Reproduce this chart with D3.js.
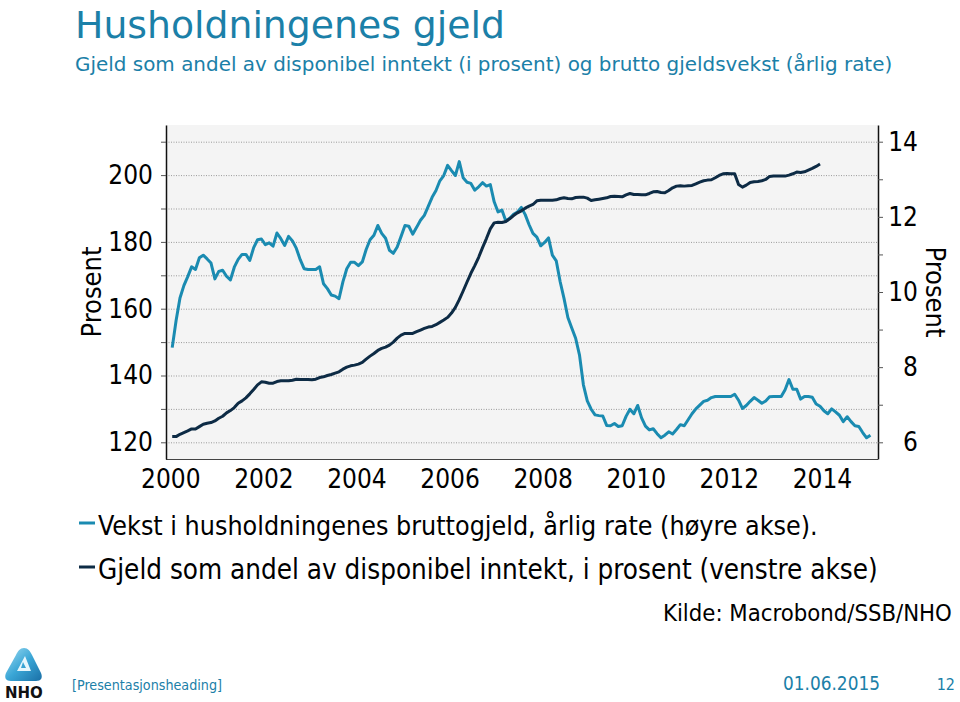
<!DOCTYPE html>
<html><head><meta charset="utf-8">
<script src="https://cdn.jsdelivr.net/npm/d3@7"></script>
<style>
body{margin:0;background:#fff;}
svg{display:block;}
text{font-family:"DejaVu Sans Condensed","DejaVu Sans",sans-serif;}
</style></head><body>
<svg id="c" width="960" height="702"></svg>
<script>
// ---- data ----
const yearTicks = [2000, 2002, 2004, 2006, 2008, 2010, 2012, 2014];
const leftGridValues = [120, 130, 140, 150, 160, 170, 180, 190, 200, 210];
const leftTickLabels = [120, 140, 160, 180, 200];
const rightTickValues = [6, 7, 8, 9, 10, 11, 12, 13, 14];
const rightTickLabels = [6, 8, 10, 12, 14];
const seriesStartYear = 2000; // both series monthly from January 2000

// Vekst i husholdningenes bruttogjeld, årlig rate (høyre akse), monthly Jan 2000 – Jan 2015
const growth = [
 8.52,9.24,9.84,10.17,10.41,10.67,10.60,10.91,10.98,10.88,10.77,10.35,
 10.55,10.58,10.42,10.32,10.66,10.87,11.00,11.00,10.84,11.18,11.39,11.41,
 11.26,11.31,11.22,11.57,11.42,11.24,11.48,11.36,11.16,10.86,10.62,10.60,
 10.60,10.60,10.67,10.22,10.09,9.92,9.89,9.82,10.27,10.62,10.79,10.79,
 10.70,10.80,11.13,11.39,11.51,11.77,11.56,11.43,11.11,11.03,11.20,11.48,
 11.77,11.75,11.54,11.72,11.91,12.04,12.28,12.52,12.70,12.96,13.10,13.37,
 13.23,13.10,13.47,13.04,12.92,12.89,12.71,12.80,12.91,12.82,12.86,12.40,
 12.13,12.18,11.89,11.96,12.07,12.13,12.25,12.06,11.79,11.56,11.46,11.23,
 11.32,11.44,10.98,10.83,10.28,9.83,9.32,9.04,8.77,8.32,7.53,7.10,
 6.88,6.73,6.71,6.70,6.45,6.44,6.50,6.42,6.44,6.69,6.88,6.76,
 6.98,6.65,6.43,6.33,6.36,6.23,6.12,6.19,6.28,6.22,6.34,6.47,
 6.44,6.60,6.76,6.89,6.99,7.09,7.12,7.19,7.22,7.22,7.22,7.22,
 7.22,7.28,7.12,6.90,6.98,7.09,7.19,7.12,7.04,7.10,7.21,7.22,
 7.22,7.22,7.40,7.67,7.41,7.41,7.15,7.22,7.22,7.20,7.02,6.96,
 6.84,6.76,6.89,6.81,6.72,6.55,6.68,6.55,6.44,6.42,6.26,6.12,
 6.19
];

// Gjeld som andel av disponibel inntekt, i prosent (venstre akse), monthly Jan 2000 – Dec 2013
const debtRatio = [
 121.7,121.7,122.4,122.9,123.4,124.0,124.0,124.7,125.4,125.7,125.9,126.4,
 127.2,127.8,128.8,129.5,130.4,131.7,132.4,133.3,134.5,135.8,137.2,138.1,
 138.0,137.7,137.7,138.2,138.4,138.4,138.4,138.6,138.9,138.8,138.8,138.8,
 138.7,138.9,139.4,139.6,140.0,140.3,140.7,141.1,141.9,142.5,142.9,143.1,
 143.4,143.9,144.9,145.8,146.6,147.5,148.1,148.5,149.1,150.0,151.2,152.1,
 152.6,152.6,152.6,153.1,153.6,154.1,154.5,154.7,155.2,155.9,156.6,157.4,
 158.7,160.4,162.7,165.3,168.0,170.6,172.9,175.4,178.3,181.0,183.9,185.7,
 185.9,185.8,186.1,186.9,187.9,188.7,189.3,190.1,190.7,191.2,192.3,192.5,
 192.5,192.5,192.5,192.6,193.0,193.2,193.0,192.9,193.3,193.4,193.4,193.1,
 192.4,192.6,192.8,193.0,193.2,193.6,193.7,193.6,193.5,194.1,194.5,194.2,
 194.2,194.1,194.1,194.5,195.0,195.1,194.8,194.7,195.4,196.2,196.7,196.8,
 196.7,196.8,196.9,197.4,197.9,198.3,198.5,198.6,199.2,199.9,200.4,200.5,
 200.4,200.4,197.2,196.4,197.0,197.8,198.0,198.1,198.3,198.7,199.6,199.7,
 199.7,199.7,199.7,200.0,200.4,200.9,200.8,201.0,201.5,202.0,202.6,203.3
];

const titleText = "Husholdningenes gjeld";
const subtitleText = "Gjeld som andel av disponibel inntekt (i prosent) og brutto gjeldsvekst (årlig rate)";
const legendLabels = ["Vekst i husholdningenes bruttogjeld, årlig rate (høyre akse).",
                      "Gjeld som andel av disponibel inntekt, i prosent (venstre akse)"];
const axisTitle = "Prosent";
const sourceText = "Kilde: Macrobond/SSB/NHO";
const footerLeft = "[Presentasjonsheading]";
const footerDate = "01.06.2015";
const footerPage = "12";

// ---- layout ----
const svg = d3.select("#c");
const P = {l: 166, r: 878, t: 125, b: 459};
const lightCol = "#1a8bb1", darkCol = "#0d2b45", teal = "#1b80a8";

const x = d3.scaleLinear().domain([1999.908, 2015.204]).range([P.l, P.r]);
const yL = d3.scaleLinear().domain([115, 215]).range([P.b, P.t]);
const yR = d3.scaleLinear().domain([6 - 5/11.25, 14 + 5/11.25]).range([P.b, P.t]);
const tOf = i => seriesStartYear + (i + 0.5) / 12;

function fit(sel, width) {
  const w = sel.node().getComputedTextLength();
  const fs = parseFloat(sel.attr("font-size"));
  sel.attr("font-size", (fs * width / w).toFixed(2));
}

// titles
fit(svg.append("text").attr("x", 75).attr("y", 38).attr("font-size", 38)
  .style("font-family", "'DejaVu Sans',sans-serif").attr("fill", teal).text(titleText), 430);
fit(svg.append("text").attr("x", 75).attr("y", 71).attr("font-size", 18)
  .style("font-family", "'DejaVu Sans',sans-serif").attr("fill", teal).text(subtitleText), 818);

// plot background
svg.append("rect").attr("x", P.l).attr("y", P.t).attr("width", P.r - P.l).attr("height", P.b - P.t)
  .attr("fill", "#f4f4f4");

// gridlines
svg.append("g").selectAll("line").data(leftGridValues).join("line")
  .attr("x1", P.l).attr("x2", P.r).attr("y1", d => yL(d) + 0.5).attr("y2", d => yL(d) + 0.5)
  .attr("stroke", "#9a9a9a").attr("stroke-width", 1).attr("stroke-dasharray", "1,1.5");

// bottom border
svg.append("line").attr("x1", P.l).attr("x2", P.r).attr("y1", P.b + 0.5).attr("y2", P.b + 0.5)
  .attr("stroke", "#444").attr("stroke-width", 1.2);

// left axis
const gL = svg.append("g").attr("transform", `translate(${P.l},0)`)
  .call(d3.axisLeft(yL).tickValues(leftGridValues).tickSize(5).tickSizeOuter(0).tickPadding(8)
    .tickFormat(d => leftTickLabels.includes(d) ? d : ""));
gL.select(".domain").attr("stroke", "#111").attr("stroke-width", 1.5);
gL.selectAll(".tick line").attr("stroke", "#555");
gL.selectAll(".tick text").attr("font-size", 26).attr("fill", "#000")
  .style("font-family", "'DejaVu Sans Condensed','DejaVu Sans',sans-serif");

// right axis
const gR = svg.append("g").attr("transform", `translate(${P.r},0)`)
  .call(d3.axisRight(yR).tickValues(rightTickValues).tickSize(5).tickSizeOuter(0)
    .tickFormat(d => rightTickLabels.includes(d) ? d : ""));
gR.select(".domain").attr("stroke", "#111").attr("stroke-width", 1.5);
gR.selectAll(".tick line").attr("stroke", "#555");
gR.selectAll(".tick text").attr("font-size", 26).attr("fill", "#000")
  .attr("x", 40).attr("text-anchor", "end")
  .style("font-family", "'DejaVu Sans Condensed','DejaVu Sans',sans-serif");

// x axis labels
const gX = svg.append("g").attr("transform", `translate(0,${P.b})`)
  .call(d3.axisBottom(x).tickValues(yearTicks).tickSize(0).tickPadding(11).tickFormat(d3.format("d")));
gX.select(".domain").remove();
gX.selectAll(".tick text").attr("font-size", 26).attr("fill", "#000")
  .style("font-family", "'DejaVu Sans Condensed','DejaVu Sans',sans-serif");

// axis titles
svg.append("text").attr("transform", "translate(101,292) rotate(-90)").attr("text-anchor", "middle")
  .attr("font-size", 27).attr("fill", "#000").text(axisTitle);
svg.append("text").attr("transform", "translate(926,292) rotate(90)").attr("text-anchor", "middle")
  .attr("font-size", 27).attr("fill", "#000").text(axisTitle);

// lines
const lineR = d3.line().x((d, i) => x(tOf(i))).y(d => yR(d));
const lineL = d3.line().x((d, i) => x(tOf(i))).y(d => yL(d));
svg.append("path").datum(growth).attr("d", lineR).attr("fill", "none")
  .attr("stroke", lightCol).attr("stroke-width", 3).attr("stroke-linejoin", "round");
svg.append("path").datum(debtRatio).attr("d", lineL).attr("fill", "none")
  .attr("stroke", darkCol).attr("stroke-width", 3).attr("stroke-linejoin", "round");

// legend
const legY = [523, 567];
const legW = [720, 780];
[lightCol, darkCol].forEach((c, k) => {
  svg.append("line").attr("x1", 79).attr("x2", 95).attr("y1", legY[k]).attr("y2", legY[k])
    .attr("stroke", c).attr("stroke-width", 3);
  fit(svg.append("text").attr("x", 98).attr("y", legY[k] + 12).attr("font-size", 26)
    .attr("fill", "#000").text(legendLabels[k]), legW[k]);
});

// source
fit(svg.append("text").attr("x", 663).attr("y", 621).attr("font-size", 24).attr("fill", "#000")
  .text(sourceText), 289);

// footer
fit(svg.append("text").attr("x", 72).attr("y", 690).attr("font-size", 16).attr("fill", teal)
  .text(footerLeft), 150);
fit(svg.append("text").attr("x", 783).attr("y", 690).attr("font-size", 16).attr("fill", teal)
  .text(footerDate), 97);
svg.append("text").attr("x", 955).attr("y", 690).attr("text-anchor", "end").attr("font-size", 16)
  .attr("fill", teal).text(footerPage);

// logo
const defs = svg.append("defs");
const gr = defs.append("linearGradient").attr("id", "lg").attr("x1", 0).attr("y1", 0).attr("x2", 1).attr("y2", 1);
gr.append("stop").attr("offset", 0).attr("stop-color", "#9fdcf2");
gr.append("stop").attr("offset", 0.5).attr("stop-color", "#3aa6d6");
gr.append("stop").attr("offset", 1).attr("stop-color", "#1a6fa6");
const logo = svg.append("g").attr("transform", "translate(4,647)");
logo.append("path").attr("d", "M20,1 C24,1 26,4 28,8 L37,26 C39,31 37,34 32,34 L7,34 C2,34 0,31 2,26 L12,8 C14,4 16,1 20,1 Z")
  .attr("fill", "url(#lg)");
logo.append("path").attr("d", "M21,9 L13,24 L27,24 Z M19,15 L22,21 L17,21 Z").attr("fill", "#e6f6fc").attr("fill-rule", "evenodd");
logo.append("text").attr("x", 1).attr("y", 51).attr("font-size", 15).attr("font-weight", "bold")
  .style("font-family", "'DejaVu Sans',sans-serif").attr("fill", "#111").text("NHO");
</script>
</body></html>
